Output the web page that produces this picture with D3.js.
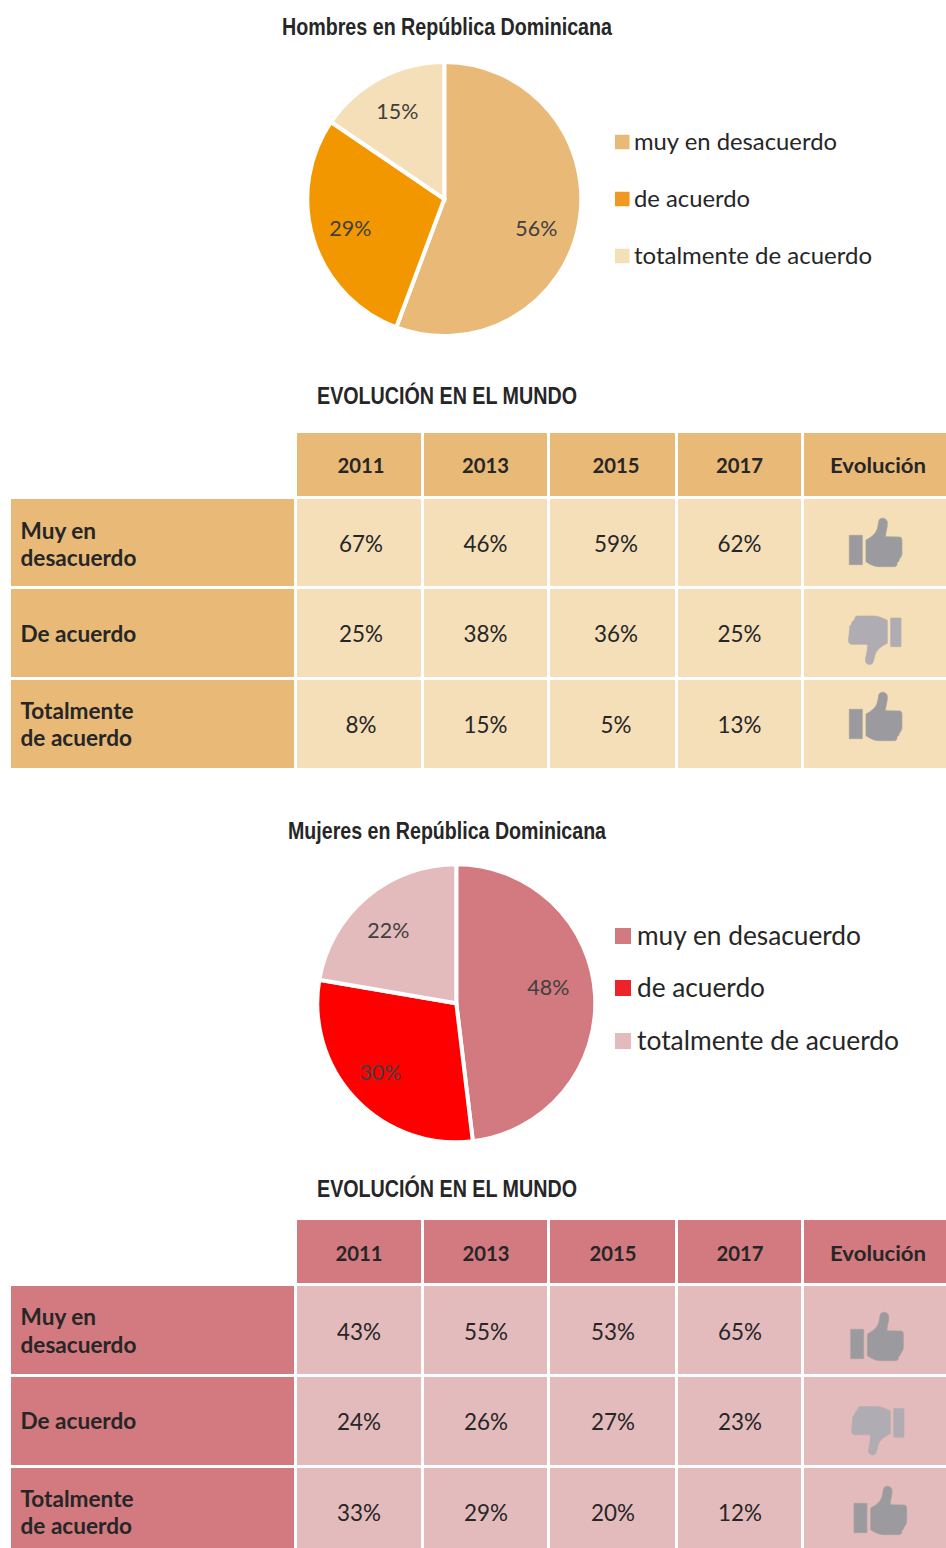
<!DOCTYPE html>
<html lang="es"><head><meta charset="utf-8">
<script src="https://cdn.jsdelivr.net/npm/d3@7"></script>
<style>html,body{margin:0;padding:0;background:#fff}svg{display:block}</style>
</head><body><svg id="c" width="946" height="1548"></svg>
<script>
const sliceNames = ["muy en desacuerdo","de acuerdo","totalmente de acuerdo"];
const rowNames = [["Muy en","desacuerdo"],["De acuerdo"],["Totalmente","de acuerdo"]];
const years = ["2011","2013","2015","2017"];
const evolutionHeader = "Evolución";
const tableTitle = "EVOLUCIÓN EN EL MUNDO";
const menTitle = "Hombres en República Dominicana";
const womenTitle = "Mujeres en República Dominicana";
const menPieLabels = [56,29,15];
const womenPieLabels = [48,30,22];
const menPieShares = [55.7,28.8,15.5];
const womenPieShares = [48.1,29.6,22.3];
const menRows = [[67,46,59,62],[25,38,36,25],[8,15,5,13]];
const womenRows = [[43,55,53,65],[24,26,27,23],[33,29,20,12]];
const menTrend = ["up","down","up"];
const womenTrend = ["up","down","up"];

const svg = d3.select("#c");
const SANS = "Lato, 'Noto Sans', sans-serif";
const TITLE = "'Liberation Sans', Arial, sans-serif";
const INK = "#262626";
const colEdges = [[297,421],[424,547],[550,675],[678,801],[804,946]];
const pct = v => v + "%";

function fitText(sel, w){
  sel.attr("textLength", w).attr("lengthAdjust","spacingAndGlyphs");
}
function title(txt, cy, w, size){
  svg.append("text").attr("x",447).attr("y",cy).attr("text-anchor","middle")
    .attr("dominant-baseline","central").attr("font-family",TITLE).attr("font-weight",700)
    .attr("font-size",size).attr("fill",INK).text(txt).call(fitText,w);
}

function pie(cfg){
  const g = svg.append("g").attr("transform",`translate(${cfg.cx},${cfg.cy})`);
  const color = d3.scaleOrdinal().domain(sliceNames).range(cfg.colors);
  const arcs = d3.pie().sort(null).value(d=>d.v)(cfg.shares.map((v,i)=>({v,label:cfg.labels[i],name:sliceNames[i]})));
  const arc = d3.arc().innerRadius(0).outerRadius(cfg.r);
  g.selectAll("path").data(arcs).join("path").attr("d",arc)
    .attr("fill",d=>color(d.data.name)).attr("stroke","#fff").attr("stroke-width",4);
  g.selectAll("text").data(arcs).join("text")
    .attr("x",(d,i)=>cfg.labelAt[i][0]).attr("y",(d,i)=>cfg.labelAt[i][1])
    .attr("text-anchor","middle").attr("dominant-baseline","central")
    .attr("font-family",SANS).attr("font-size",22).attr("fill","#404040")
    .text(d=>pct(d.data.label)).call(fitText,42);
  const lg = svg.append("g").selectAll("g").data(sliceNames).join("g")
    .attr("transform",(d,i)=>`translate(615,${cfg.legendY[i]})`);
  lg.append("rect").attr("x",0).attr("y",-cfg.sw/2).attr("width",cfg.sw).attr("height",cfg.sw)
    .attr("fill",d=>cfg.legendColors[sliceNames.indexOf(d)]);
  lg.append("text").attr("x",cfg.tx).attr("y",-1.5).attr("dominant-baseline","central")
    .attr("font-family",SANS).attr("font-size",cfg.fs).attr("fill",INK).text(d=>d)
    .each(function(d,i){d3.select(this).call(fitText,cfg.legendW[i]);});
}

const UP = "M198,330 C212,322 226,314 232,296 C236,284 234,272 240,267 C248,262 260,265 262,276 C264,292 256,306 257,320 L300,321 C305,322 306,326 306,332 L306,372 C305,380 301,384 298,388 C298,394 295,396 291,398 C292,404 290,409 284,410 L236,410 C220,409 208,402 198,395 Z M148,316 L187,316 L187,404 L148,404 Z";
const DOWN = "M262,571 C250,564 232,558 220,558 L172,558 C166,559 163,563 164,570 C158,572 155,575 155,582 C150,586 147,590 149,596 C147,606 148,612 146,624 C144,634 146,643 158,643 L202,643 C204,660 197,678 196,692 C197,703 210,706 216,701 C222,696 222,682 226,672 C232,656 246,648 262,640 Z M272,564 L303,564 L303,650 L272,650 Z";

function icon(kind, x, y, c){
  const base = kind==="up" ? [148,264] : [144,558];
  svg.append("path").attr("d",kind==="up"?UP:DOWN)
    .attr("transform",`translate(${x},${y}) scale(${1/3}) translate(${-base[0]},${-base[1]})`)
    .attr("fill",c).attr("stroke",c==="#9b9b9f"?"#a8a29a":"#b9aea8").attr("stroke-width",2);
}

function table(cfg){
  const header = [...years, evolutionHeader];
  const rect = (x0,x1,y0,y1,f)=>svg.append("rect").attr("x",x0).attr("y",y0)
    .attr("width",x1-x0).attr("height",y1-y0).attr("fill",f);
  const txt = (s,x,y,opt={})=>svg.append("text").attr("x",x).attr("y",y)
    .attr("text-anchor",opt.anchor||"middle").attr("dominant-baseline","central")
    .attr("font-family",SANS).attr("font-weight",opt.bold?700:400)
    .attr("font-size",opt.size||22).attr("fill",INK).text(s);
  header.forEach((h,i)=>{
    rect(colEdges[i][0],colEdges[i][1],cfg.headY[0],cfg.headY[1],cfg.dark);
    const t = txt(h,cfg.colCx[i],cfg.headCy,{bold:true,size:21.5});
    t.call(fitText,i<4?47:96);
  });
  cfg.rows.forEach((row,r)=>{
    const [y0,y1] = cfg.rowY[r];
    rect(11,294,y0,y1,cfg.dark);
    rowNames[r].forEach((ln,k)=>{
      txt(ln,20.5,cfg.labelCy[r][k]-1.5,{bold:true,anchor:"start",size:22.6});
    });
    row.forEach((v,c)=>{
      rect(colEdges[c][0],colEdges[c][1],y0,y1,cfg.light);
      txt(pct(v),cfg.colCx[c],cfg.valCy[r],{size:22.4});
    });
    rect(colEdges[4][0],colEdges[4][1],y0,y1,cfg.light);
    icon(cfg.trend[r],cfg.iconAt[r][0],cfg.iconAt[r][1],cfg.trend[r]==="up"?"#9b9b9f":"#afadb3");
  });
}

title(menTitle,26.5,330,24);
pie({cx:444.3,cy:199,r:137,shares:menPieShares,labels:menPieLabels,colors:["#e9ba77","#f39700","#f4dfb8"],
  legendColors:["#e9ba77","#f0981f","#f4dfb8"],
  labelAt:[[92,28],[-94,28],[-47,-89]],legendY:[142,199,256],sw:14.5,tx:19,fs:24,legendW:[203,116,238]});
title(tableTitle,395.5,260,24);
table({dark:"#e9ba77",light:"#f4dfb8",rows:menRows,trend:menTrend,
  headY:[433,496],headCy:464.5,rowY:[[499,586],[589,677],[680,768]],
  colCx:[361,485.5,616,739.5,878],valCy:[543.5,633.5,724.5],
  labelCy:[[532,559],[635],[712,739]],
  iconAt:[[849.3,518],[848,616],[849.3,692]]});

title(womenTitle,830.5,318,24);
pie({cx:456.3,cy:1003.3,r:139,shares:womenPieShares,labels:womenPieLabels,colors:["#d27a80","#ff0000","#e4bbbd"],
  legendColors:["#d27a80","#ee2229","#e4bbbd"],
  labelAt:[[92,-17],[-76,68],[-68,-74]],legendY:[936,988,1041],sw:16,tx:22,fs:26,legendW:[224,128,262]});
title(tableTitle,1188.5,260,24);
table({dark:"#d27a80",light:"#e4bbbd",rows:womenRows,trend:womenTrend,
  headY:[1220,1283],headCy:1252.5,rowY:[[1286,1374],[1377,1465],[1468,1548]],
  colCx:[359,486,613,740,878],valCy:[1331,1421,1512],
  labelCy:[[1318,1346],[1422],[1500,1527]],
  iconAt:[[850.7,1312],[851,1406.5],[854,1486]]});
</script></body></html>
